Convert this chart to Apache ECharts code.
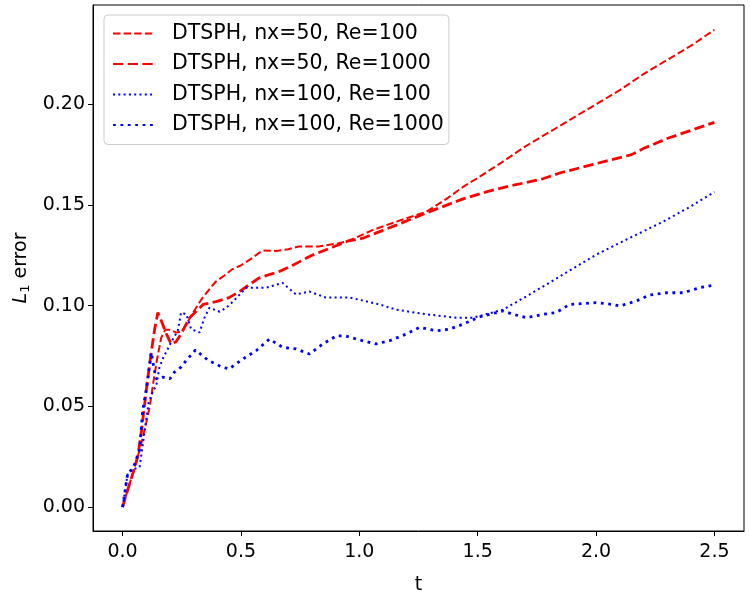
<!DOCTYPE html>
<html>
<head>
<meta charset="utf-8">
<script src="https://cdn.jsdelivr.net/npm/echarts@6/dist/echarts.min.js"></script>
<style>
  html, body { margin: 0; padding: 0; background: #fff; }
  #chart { width: 750px; height: 600px; }
</style>
</head>
<body>
<div id="chart"></div>
<script>
// DTSPH, nx=50, Re=100
const tA = [0, 0.022, 0.044, 0.064, 0.08, 0.1, 0.115, 0.13, 0.145, 0.163, 0.18, 0.2, 0.226, 0.25, 0.275, 0.3, 0.338, 0.394, 0.43, 0.462, 0.5, 0.547, 0.59, 0.646, 0.7, 0.744, 0.828, 0.912, 0.95, 1.058, 1.156, 1.283, 1.368, 1.438, 1.494, 1.6, 1.7, 1.8, 1.9, 2.0, 2.1, 2.2, 2.3, 2.4, 2.5];
const vA = [0, 0.0087, 0.017, 0.025, 0.032, 0.042, 0.05, 0.062, 0.073, 0.084, 0.088, 0.088, 0.0867, 0.087, 0.092, 0.097, 0.104, 0.112, 0.115, 0.118, 0.120, 0.1236, 0.1274, 0.1272, 0.128, 0.1294, 0.1294, 0.131, 0.132, 0.1376, 0.1417, 0.1466, 0.153, 0.159, 0.163, 0.171, 0.179, 0.186, 0.193, 0.200, 0.207, 0.215, 0.222, 0.229, 0.237];

// DTSPH, nx=50, Re=1000
const tB = [0, 0.022, 0.044, 0.064, 0.08, 0.1, 0.12, 0.135, 0.149, 0.165, 0.185, 0.205, 0.225, 0.247, 0.283, 0.34, 0.395, 0.45, 0.493, 0.577, 0.662, 0.717, 0.8, 0.886, 0.95, 1.015, 1.156, 1.297, 1.438, 1.536, 1.62, 1.775, 1.85, 1.95, 2.05, 2.15, 2.2, 2.3, 2.4, 2.5];
const vB = [0, 0.0087, 0.017, 0.025, 0.038, 0.058, 0.076, 0.088, 0.0966, 0.092, 0.086, 0.081, 0.082, 0.086, 0.094, 0.1006, 0.102, 0.104, 0.107, 0.1138, 0.117, 0.120, 0.125, 0.129, 0.132, 0.1335, 0.140, 0.1467, 0.153, 0.1565, 0.159, 0.163, 0.166, 0.169, 0.172, 0.175, 0.178, 0.183, 0.187, 0.191];

// DTSPH, nx=100, Re=100
const tC = [0, 0.022, 0.044, 0.072, 0.09, 0.11, 0.13, 0.142, 0.155, 0.169, 0.205, 0.233, 0.247, 0.269, 0.29, 0.325, 0.346, 0.367, 0.41, 0.438, 0.466, 0.522, 0.606, 0.676, 0.732, 0.789, 0.859, 0.96, 1.086, 1.156, 1.283, 1.41, 1.48, 1.607, 1.72, 1.86, 2.0, 2.14, 2.283, 2.396, 2.5];
const vC = [0, 0.017, 0.0186, 0.02, 0.035, 0.052, 0.058, 0.06, 0.069, 0.0735, 0.0818, 0.0875, 0.0966, 0.0957, 0.0883, 0.0867, 0.094, 0.099, 0.097, 0.099, 0.102, 0.1089, 0.1089, 0.1113, 0.1056, 0.107, 0.104, 0.104, 0.1006, 0.098, 0.0957, 0.094, 0.094, 0.098, 0.1056, 0.1154, 0.1253, 0.1335, 0.1417, 0.149, 0.1565];

// DTSPH, nx=100, Re=1000
const tD = [0, 0.022, 0.044, 0.072, 0.085, 0.1, 0.121, 0.128, 0.141, 0.17, 0.2, 0.219, 0.247, 0.269, 0.308, 0.36, 0.42, 0.45, 0.508, 0.565, 0.62, 0.676, 0.733, 0.79, 0.846, 0.903, 0.94, 1.0, 1.07, 1.128, 1.198, 1.255, 1.325, 1.38, 1.438, 1.508, 1.607, 1.642, 1.705, 1.776, 1.832, 1.888, 2.0, 2.07, 2.1, 2.17, 2.226, 2.297, 2.367, 2.438, 2.5];
const vD = [0, 0.017, 0.019, 0.0286, 0.048, 0.058, 0.0768, 0.072, 0.0637, 0.0645, 0.0637, 0.067, 0.0695, 0.0728, 0.078, 0.073, 0.0695, 0.0686, 0.0735, 0.0777, 0.0834, 0.0793, 0.0785, 0.076, 0.081, 0.085, 0.085, 0.083, 0.081, 0.0826, 0.0859, 0.0892, 0.0875, 0.0883, 0.0908, 0.0944, 0.0974, 0.096, 0.094, 0.0957, 0.0966, 0.1006, 0.1015, 0.1006, 0.0998, 0.1023, 0.1053, 0.1064, 0.1064, 0.1089, 0.1102];

const names = ['DTSPH, nx=50, Re=100', 'DTSPH, nx=50, Re=1000', 'DTSPH, nx=100, Re=100', 'DTSPH, nx=100, Re=1000'];
const xTicks = [0, 0.5, 1.0, 1.5, 2.0, 2.5];
const yTicks = [0, 0.05, 0.10, 0.15, 0.20];

const font = 'DejaVu Sans';
const zip = (t, v) => t.map((x, i) => [x, v[i]]);

// matplotlib-like dash patterns
const lines = [
    { data: zip(tA, vA), color: '#ff0000', width: 2.0, dash: [7.4, 3.2] },
    { data: zip(tB, vB), color: '#ff0000', width: 2.8, dash: [10.3, 4.4] },
    { data: zip(tC, vC), color: '#0000ff', width: 2.0, dash: [2.0, 3.3] },
    { data: zip(tD, vD), color: '#0000ff', width: 2.8, dash: [2.8, 4.6] }
];

const chart = echarts.init(document.getElementById('chart'));
chart.setOption({
    animation: false,
    backgroundColor: '#fff',
    grid: { left: 93, right: 6, top: 5, bottom: 65, show: true, borderColor: '#000', borderWidth: 1 },
    legend: {
        orient: 'vertical',
        left: 104, top: 15,
        data: names,
        itemWidth: 40, itemHeight: 14, itemGap: 9.5,
        padding: [8, 5, 9, 8],
        backgroundColor: 'rgba(255,255,255,0.8)',
        borderColor: '#cccccc', borderWidth: 1, borderRadius: 4,
        itemStyle: { opacity: 0 },
        textStyle: { fontFamily: font, fontSize: 20.5, color: '#000', padding: [0, 0, 0, 14] }
    },
    xAxis: {
        type: 'value', min: -0.125, max: 2.625,
        name: 't', nameLocation: 'middle', nameGap: 45,
        nameTextStyle: { fontFamily: font, fontSize: 19, color: '#000' },
        axisLine: { show: true, onZero: false, lineStyle: { color: '#000', width: 1 } },
        axisTick: { show: true, length: 5, customValues: xTicks, lineStyle: { color: '#000', width: 1 } },
        axisLabel: { customValues: xTicks, formatter: v => v.toFixed(1), fontFamily: font, fontSize: 19, color: '#000', margin: 12 },
        splitLine: { show: false }
    },
    yAxis: {
        type: 'value', min: -0.0119, max: 0.2493,
        name: '{i|L}{s|1} error', nameLocation: 'middle', nameGap: 59, nameRotate: 90,
        nameTextStyle: {
            fontFamily: font, fontSize: 19, color: '#000',
            rich: {
                i: { fontFamily: font, fontSize: 19, fontStyle: 'italic', color: '#000' },
                s: { fontFamily: font, fontSize: 13, color: '#000', padding: [8, 0, 0, 0] }
            }
        },
        axisLine: { show: true, onZero: false, lineStyle: { color: '#000', width: 1 } },
        axisTick: { show: true, length: 5, customValues: yTicks, lineStyle: { color: '#000', width: 1 } },
        axisLabel: { customValues: yTicks, formatter: v => v.toFixed(2), fontFamily: font, fontSize: 19, color: '#000', margin: 8 },
        splitLine: { show: false }
    },
    series: lines.map((l, i) => ({
        name: names[i],
        type: 'line',
        data: l.data,
        symbol: 'none',
        smooth: false,
        color: l.color,
        lineStyle: { color: l.color, width: l.width, type: l.dash, cap: 'butt' }
    }))
});
</script>
</body>
</html>
